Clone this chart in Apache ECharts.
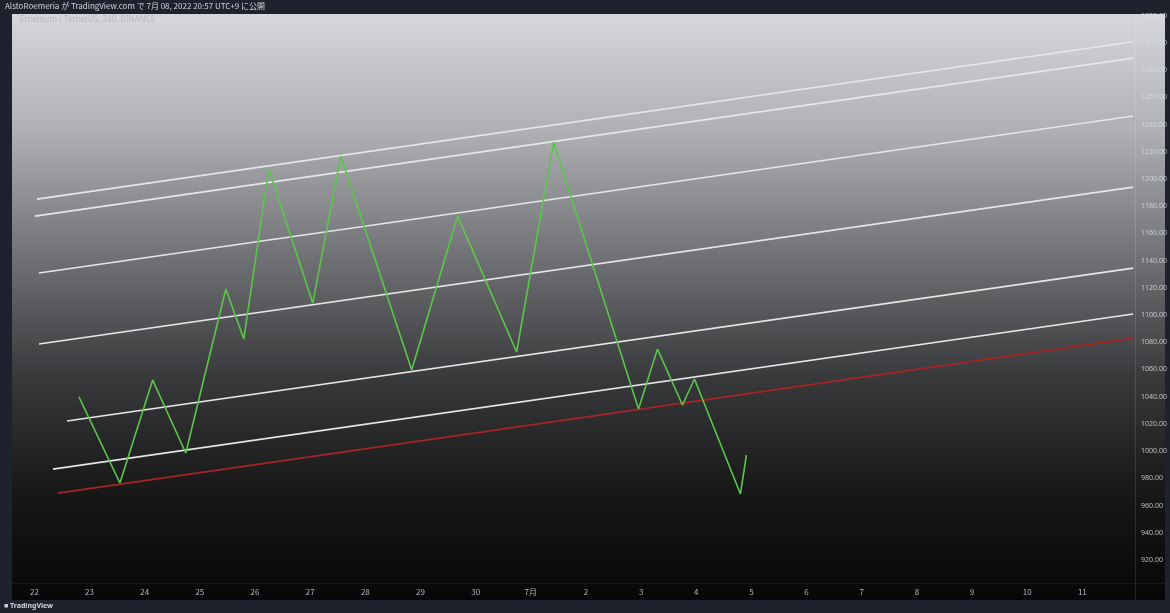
<!DOCTYPE html>
<html>
<head>
<meta charset="utf-8">
<script src="https://cdn.jsdelivr.net/npm/echarts@6/dist/echarts.min.js"></script>
<style>
html,body{margin:0;padding:0;background:#1e222d;}
#c{width:1170px;height:613px;}
</style>
</head>
<body>
<div id="c"></div>
<script>
// ---- data ----
// x: days since Jun 22 (0 = 22), y: price (USDT)
const xLabels = ['22','23','24','25','26','27','28','29','30','7月','2','3','4','5','6','7','8','9','10','11'];
const yTicks = [920,940,960,980,1000,1020,1040,1060,1080,1100,1120,1140,1160,1180,1200,1220,1240,1260,1280,1300,1320];

const pathDays   = [0.808,1.551,2.145,2.745,3.471,3.797,4.250,5.047,5.554,6.841,7.674,8.743,9.413,10.953,11.297,11.750,11.967,12.801,12.909];
const pathPrices = [1039.8,976.6,1052.2,998.6,1119.1,1082.4,1207.3,1108.8,1216.8,1059.6,1172.7,1072.8,1227.1,1030.9,1075.0,1033.9,1053.0,968.5,997.1];

// channel lines: start day, start price, end day, end price
const chanStartDay   = [0.047,0.011,0.083,0.083,0.591,0.337];
const chanStartPrice = [1185.2,1172.7,1130.9,1078.7,1022.1,986.8];
const chanEndDay     = [19.92,19.92,19.92,19.92,19.92,19.92];
const chanEndPrice   = [1300.8,1288.8,1246.2,1194.0,1134.5,1100.7];

const baseStart = [0.428, 969.2];
const baseEnd   = [19.92, 1083.1];

// ---- chart ----
const chart = echarts.init(document.getElementById('c'));
const series = [];
for (let i = 0; i < chanStartDay.length; i++) {
  series.push({
    type:'line', silent:true, symbol:'none', z:3,
    data:[[chanStartDay[i],chanStartPrice[i]],[chanEndDay[i],chanEndPrice[i]]],
    lineStyle:{color:'#e6e6e6',width:1.6}
  });
}
series.push({
  type:'line', silent:true, symbol:'none', z:3,
  data:[baseStart, baseEnd],
  lineStyle:{color:'#a82424',width:1.8}
});
series.push({
  type:'line', silent:true, symbol:'none', z:4,
  data:pathDays.map((d,i)=>[d,pathPrices[i]]),
  lineStyle:{color:'#5cc64c',width:1.6}
});

chart.setOption({
  animation:false,
  backgroundColor:'#1e222d',
  grid:{left:12,right:35,top:14,bottom:30},
  graphic:[
    {type:'rect',z:-10,silent:true,shape:{x:12,y:14,width:1153,height:586},
     style:{fill:new echarts.graphic.LinearGradient(0,0,0,1,[
       {offset:0,color:'#d5d7dc'},
       {offset:0.2,color:'#aeb0b4'},
       {offset:0.42,color:'#6f7073'},
       {offset:0.62,color:'#38393b'},
       {offset:0.82,color:'#171718'},
       {offset:1,color:'#070707'}])}},
    {type:'line',z:-5,silent:true,shape:{x1:1135.5,y1:14,x2:1135.5,y2:600},style:{stroke:'rgba(255,255,255,0.12)',lineWidth:1}},
    {type:'line',z:-5,silent:true,shape:{x1:12,y1:583.5,x2:1165,y2:583.5},style:{stroke:'rgba(255,255,255,0.06)',lineWidth:1}},
    {type:'text',left:5,top:2,style:{text:'AlstoRoemeria が TradingView.com で 7月 08, 2022 20:57 UTC+9 に公開',fill:'#d1d4dc',font:'8px "Noto Sans CJK JP", "Noto Sans", sans-serif'}},
    {type:'text',left:20,top:16,style:{text:'Ethereum / TetherUS, 240, BINANCE',fill:'rgba(150,153,160,0.45)',font:'8px "Noto Sans", sans-serif'}},
    {type:'text',left:4,top:602,style:{text:'\u25A0 TradingView',fill:'#d1d4dc',font:'bold 7px "Noto Sans", sans-serif'}}
  ],
  xAxis:{
    type:'value', min:-0.4058, max:19.938,
    axisLine:{show:false}, axisTick:{show:false}, splitLine:{show:false},
    axisLabel:{
      customValues:xLabels.map((_,i)=>i),
      formatter:(v)=>xLabels[Math.round(v)],
      color:'#b2b5be', fontSize:8, margin:5,
      fontFamily:'"Noto Sans CJK JP", "Noto Sans", sans-serif'
    }
  },
  yAxis:{
    type:'value', position:'right', min:903.1, max:1321.2,
    axisLine:{show:false}, axisTick:{show:false}, splitLine:{show:false},
    axisLabel:{
      customValues:yTicks,
      formatter:(v)=>v.toFixed(2),
      color:'rgba(215,218,225,0.85)', fontSize:7, margin:7,
      fontFamily:'"Noto Sans", sans-serif'
    }
  },
  series:series
});
</script>
</body>
</html>
